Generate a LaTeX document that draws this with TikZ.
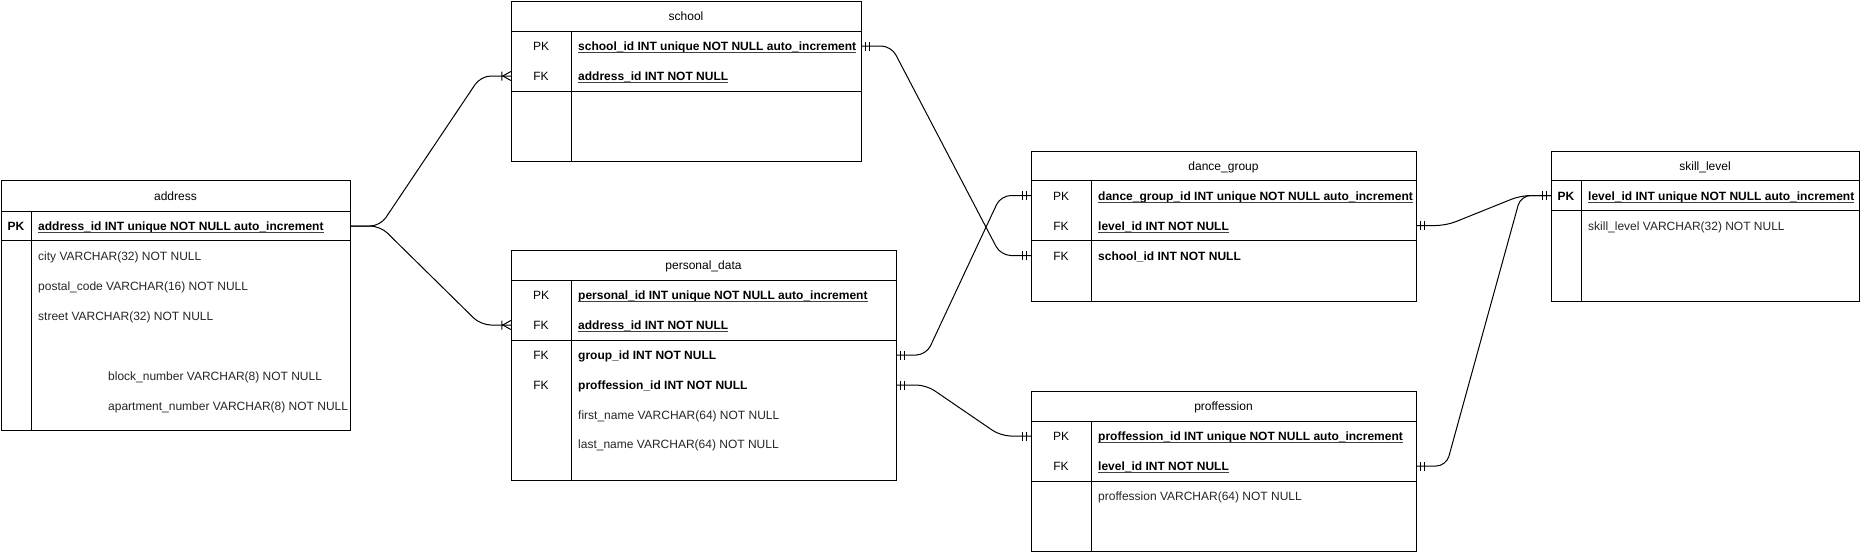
\documentclass[tikz,border=0pt]{standalone}
\usepackage{fontspec}
\setmainfont{Liberation Sans}
\newcommand\erfont{\fontsize{12pt}{14pt}\selectfont}
\definecolor{txtgray}{HTML}{262626}
\begin{document}
\begin{tikzpicture}[x=1pt,y=-1pt,
  ln/.style={line width=1pt, draw=black},
  tbl/.style={draw=black, line width=1pt, rectangle, inner sep=0pt, anchor=north west},
  title/.style={inner sep=0pt, anchor=base, font=\erfont},
  keylbl/.style={inner sep=0pt, anchor=base, font=\erfont\bfseries},
  keyreg/.style={inner sep=0pt, anchor=base, font=\erfont},
  colbold/.style={inner sep=0pt, anchor=base west, font=\erfont\bfseries},
  colplain/.style={inner sep=0pt, anchor=base west, font=\erfont, text=txtgray},
  ulline/.style={line width=0.8pt, draw=black!75},
  ul/.style={append after command={([yshift=-1.6pt]\tikzlastnode.base west) edge[ulline] ([yshift=-1.6pt]\tikzlastnode.base east)}},
  rowbox/.style={inner sep=0pt, minimum height=30pt, anchor=center},
  conn/.style={line width=1pt, draw=black, rounded corners=10pt},
  mandone/.pic={\draw[line width=1pt] (4pt,-4.5pt) -- (4pt,4.5pt) (8pt,-4.5pt) -- (8pt,4.5pt);},
  onemany/.pic={\draw[line width=1pt] (9pt,-4.5pt) -- (9pt,4.5pt) (0pt,-4.5pt) -- (8pt,0pt) -- (0pt,4.5pt);}
]
\useasboundingbox[fill=white] (0,0) rectangle (1861,552);

% ---------------- address ----------------
\node[tbl, minimum width=349pt, minimum height=250pt] (address) at (1,180) {};
\draw[ln] (1,211) -- (350,211) (1,240) -- (350,240) (31,211) -- (31,430);
\node[rowbox, minimum width=349pt] (addr-pk) at (175.5,226) {};
\node[title] (addr-t) at (175.5,200.5) {address};
\node[keylbl] (addr-k1) at (16,230.5) {PK};
\node[colbold, ul] (addr-c1) at (38,230.5) {address\_id INT unique NOT NULL auto\_increment};
\node[colplain] (addr-c2) at (38,260.5) {city VARCHAR(32) NOT NULL};
\node[colplain] (addr-c3) at (38,290.5) {postal\_code VARCHAR(16) NOT NULL};
\node[colplain] (addr-c4) at (38,320.5) {street VARCHAR(32) NOT NULL};
\node[colplain] (addr-c5) at (108,380.5) {block\_number VARCHAR(8) NOT NULL};
\node[colplain] (addr-c6) at (108,410.5) {apartment\_number VARCHAR(8) NOT NULL};

% ---------------- school ----------------
\node[tbl, minimum width=350pt, minimum height=160pt] (school) at (511,1) {};
\draw[ln] (511,31) -- (861,31) (511,91) -- (861,91) (571,31) -- (571,161);
\node[rowbox, minimum width=350pt] (sch-pk) at (686,46) {};
\node[rowbox, minimum width=350pt] (sch-fk) at (686,76) {};
\node[title] (sch-t) at (686,20.5) {school};
\node[keyreg] (sch-k1) at (541,50.5) {PK};
\node[keyreg] (sch-k2) at (541,80.5) {FK};
\node[colbold, ul] (sch-c1) at (578,50.5) {school\_id INT unique NOT NULL auto\_increment};
\node[colbold, ul] (sch-c2) at (578,80.5) {address\_id INT NOT NULL};

% ---------------- personal_data ----------------
\node[tbl, minimum width=385pt, minimum height=230pt] (personal) at (511,249.5) {};
\draw[ln] (511,280) -- (896,280) (511,340) -- (896,340) (571,280) -- (571,479.5);
\node[rowbox, minimum width=385pt] (pd-pk) at (703.5,295) {};
\node[rowbox, minimum width=385pt] (pd-addr) at (703.5,325) {};
\node[rowbox, minimum width=385pt] (pd-grp) at (703.5,355) {};
\node[rowbox, minimum width=385pt] (pd-prof) at (703.5,385) {};
\node[title] (pd-t) at (703.5,269.5) {personal\_data};
\node[keyreg] (pd-k1) at (541,299.5) {PK};
\node[keyreg] (pd-k2) at (541,329.5) {FK};
\node[keyreg] (pd-k3) at (541,359.5) {FK};
\node[keyreg] (pd-k4) at (541,389.5) {FK};
\node[colbold, ul] (pd-c1) at (578,299.5) {personal\_id INT unique NOT NULL auto\_increment};
\node[colbold, ul] (pd-c2) at (578,329.5) {address\_id INT NOT NULL};
\node[colbold] (pd-c3) at (578,359.5) {group\_id INT NOT NULL};
\node[colbold] (pd-c4) at (578,389.5) {proffession\_id INT NOT NULL};
\node[colplain] (pd-c5) at (578,419.5) {first\_name VARCHAR(64) NOT NULL};
\node[colplain] (pd-c6) at (578,448.5) {last\_name VARCHAR(64) NOT NULL};

% ---------------- dance_group ----------------
\node[tbl, minimum width=385pt, minimum height=150pt] (dance) at (1031,150.5) {};
\draw[ln] (1031,180.5) -- (1416,180.5) (1031,240.5) -- (1416,240.5) (1091,180.5) -- (1091,300.5);
\node[rowbox, minimum width=385pt] (dg-pk) at (1223.5,195.5) {};
\node[rowbox, minimum width=385pt] (dg-lvl) at (1223.5,225.5) {};
\node[rowbox, minimum width=385pt] (dg-sch) at (1223.5,255.5) {};
\node[title] (dg-t) at (1223.5,170.5) {dance\_group};
\node[keyreg] (dg-k1) at (1061,200.5) {PK};
\node[keyreg] (dg-k2) at (1061,230.5) {FK};
\node[keyreg] (dg-k3) at (1061,260.5) {FK};
\node[colbold, ul] (dg-c1) at (1098,200.5) {dance\_group\_id INT unique NOT NULL auto\_increment};
\node[colbold, ul] (dg-c2) at (1098,230.5) {level\_id INT NOT NULL};
\node[colbold] (dg-c3) at (1098,260.5) {school\_id INT NOT NULL};

% ---------------- proffession ----------------
\node[tbl, minimum width=385pt, minimum height=159.5pt] (proffession) at (1031,391) {};
\draw[ln] (1031,421) -- (1416,421) (1031,481) -- (1416,481) (1091,421) -- (1091,550.5);
\node[rowbox, minimum width=385pt] (pr-pk) at (1223.5,436) {};
\node[rowbox, minimum width=385pt] (pr-lvl) at (1223.5,466) {};
\node[title] (pr-t) at (1223.5,410.5) {proffession};
\node[keyreg] (pr-k1) at (1061,440.5) {PK};
\node[keyreg] (pr-k2) at (1061,470.5) {FK};
\node[colbold, ul] (pr-c1) at (1098,440.5) {proffession\_id INT unique NOT NULL auto\_increment};
\node[colbold, ul] (pr-c2) at (1098,470.5) {level\_id INT NOT NULL};
\node[colplain] (pr-c3) at (1098,500.5) {proffession VARCHAR(64) NOT NULL};

% ---------------- skill_level ----------------
\node[tbl, minimum width=308pt, minimum height=150pt] (skill) at (1551,150.5) {};
\draw[ln] (1551,180.5) -- (1859,180.5) (1551,210.5) -- (1859,210.5) (1581,180.5) -- (1581,300.5);
\node[rowbox, minimum width=308pt] (sk-pk) at (1705,195.5) {};
\node[title] (sk-t) at (1705,170.5) {skill\_level};
\node[keylbl] (sk-k1) at (1566,200.5) {PK};
\node[colbold, ul] (sk-c1) at (1588,200.5) {level\_id INT unique NOT NULL auto\_increment};
\node[colplain] (sk-c2) at (1588,230.5) {skill\_level VARCHAR(32) NOT NULL};

% ---------------- connectors ----------------
\draw[conn] (addr-pk.east) -- ++(30,0) -- ([xshift=-30pt]sch-fk.west) -- (sch-fk.west);
\draw[conn] (addr-pk.east) -- ++(30,0) -- ([xshift=-30pt]pd-addr.west) -- (pd-addr.west);
\draw[conn] (sch-pk.east) -- ++(30,0) -- ([xshift=-30pt]dg-sch.west) -- (dg-sch.west);
\draw[conn] (pd-grp.east) -- ++(30,0) -- ([xshift=-30pt]dg-pk.west) -- (dg-pk.west);
\draw[conn] (pd-prof.east) -- ++(30,0) -- ([xshift=-30pt]pr-pk.west) -- (pr-pk.west);
\draw[conn] (dg-lvl.east) -- ++(30,0) -- ([xshift=-30pt]sk-pk.west) -- (sk-pk.west);
\draw[conn] (pr-lvl.east) -- ++(30,0) -- ([xshift=-30pt]sk-pk.west) -- (sk-pk.west);

% ---------------- markers ----------------
\pic[xscale=-1] at (sch-fk.west) {onemany};
\pic[xscale=-1] at (pd-addr.west) {onemany};
\pic at (sch-pk.east) {mandone};
\pic[xscale=-1] at (dg-sch.west) {mandone};
\pic at (pd-grp.east) {mandone};
\pic[xscale=-1] at (dg-pk.west) {mandone};
\pic at (pd-prof.east) {mandone};
\pic[xscale=-1] at (pr-pk.west) {mandone};
\pic at (dg-lvl.east) {mandone};
\pic at (pr-lvl.east) {mandone};
\pic[xscale=-1] at (sk-pk.west) {mandone};
\end{tikzpicture}
\end{document}
